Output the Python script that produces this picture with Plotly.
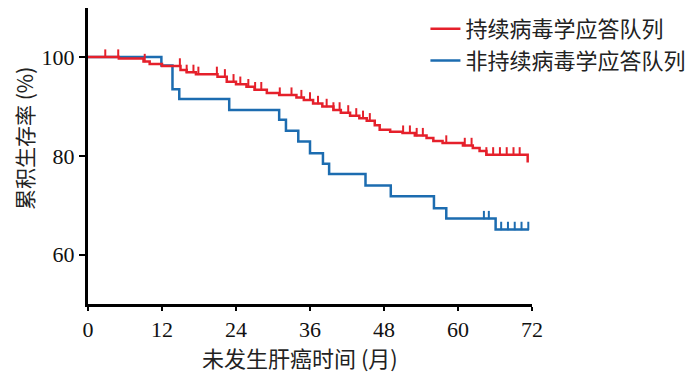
import plotly.graph_objects as go

# Sustained virological response cohort (red)
svr_times = [0, 5, 9, 10, 12, 15, 16, 17.5, 21, 22.5, 24, 25.7, 27, 29, 31, 33.8, 35, 36.5, 38, 39.8,
             41, 42.5, 44, 45.2, 46.5, 47.3, 49, 51, 53, 54.9, 56, 57.5, 60.8, 62.4, 63.5, 64.6, 71.3, 71.5]
svr_surv = [100, 99.7, 99.1, 98.6, 98.2, 97.4, 96.9, 96.5, 96.0, 95.0, 94.5, 94.0, 93.4, 92.7, 92.3, 91.8,
            91.3, 90.6, 90.0, 89.3, 88.7, 88.1, 87.6, 87.1, 86.2, 85.3, 84.9, 84.6, 84.1, 83.6, 83.0, 82.6,
            82.1, 81.6, 81.0, 80.2, 78.9, 78.9]
svr_censor = [2.8, 4.9, 9.2, 14.9, 16.0, 17.1, 17.9, 20.9, 22.2, 23.6, 24.7, 26.0, 27.1, 28.1, 31.1, 33.0,
              34.6, 36.0, 37.3, 38.7, 39.8, 40.8, 42.2, 43.5, 44.6, 45.7, 51.1, 52.2, 53.3, 54.3, 58.1,
              61.1, 62.2, 64.6, 65.7, 66.8, 67.9, 69.0, 70.0]

# Non-sustained virological response cohort (blue)
nsvr_times = [0, 11.9, 13.7, 14.8, 22.9, 31, 32.1, 34.1, 36, 38.1, 39.1, 45, 49.1, 56.1, 58.1, 66.1, 71.5]
nsvr_surv = [100, 98.3, 93.5, 91.5, 89.3, 87.3, 85.1, 82.9, 80.5, 78.4, 76.3, 74.0, 71.8, 69.4, 67.3, 65.1, 65.1]
nsvr_censor = [64.2, 65.0, 67.0, 68.1, 69.2, 70.3, 71.4]

x_ticks = [0, 12, 24, 36, 48, 60, 72]
y_ticks = [60, 80, 100]

RED = "#e5202b"
BLUE = "#1c6cb0"
SERIF = "Liberation Serif, Times New Roman, serif"
CJK = "Noto Sans CJK SC"


def surv_at(times, surv, t):
    v = surv[0]
    for ti, si in zip(times, surv):
        if ti <= t:
            v = si
    return v


fig = go.Figure()

fig.add_trace(go.Scatter(x=nsvr_times, y=nsvr_surv, mode="lines", line=dict(color=BLUE, width=2.5, shape="hv"),
                         name="非持续病毒学应答队列", legendrank=2, legendgroup="b"))
fig.add_trace(go.Scatter(x=nsvr_censor, y=[surv_at(nsvr_times, nsvr_surv, t) + 0.7 for t in nsvr_censor],
                         mode="markers", marker=dict(symbol="line-ns", size=6, line=dict(color=BLUE, width=2)),
                         showlegend=False, legendgroup="b"))
fig.add_trace(go.Scatter(x=svr_times, y=svr_surv, mode="lines", line=dict(color=RED, width=2.5, shape="hv"),
                         name="持续病毒学应答队列", legendrank=1, legendgroup="r"))
fig.add_trace(go.Scatter(x=svr_censor, y=[surv_at(svr_times, svr_surv, t) + 0.7 for t in svr_censor],
                         mode="markers", marker=dict(symbol="line-ns", size=6, line=dict(color=RED, width=2)),
                         showlegend=False, legendgroup="r"))

PH = 296.0  # plot height in px

fig.update_layout(
    width=692, height=367,
    margin=dict(l=80, r=168, t=0, b=71, autoexpand=False),
    paper_bgcolor="white", plot_bgcolor="white",
    showlegend=True,
    legend=dict(x=0.76, y=1.0, xanchor="left", yanchor="top", bgcolor="rgba(0,0,0,0)",
                font=dict(family=CJK, size=22, color="#222"),
                tracegroupgap=0, itemwidth=30),
    xaxis=dict(range=[0, 72], tickvals=x_ticks, ticktext=[str(v) for v in x_ticks],
               showgrid=False, zeroline=False, showline=True, linecolor="black", linewidth=3,
               ticks="outside", ticklen=4, tickwidth=2, tickcolor="black",
               tickfont=dict(family=SERIF, size=22, color="#111")),
    yaxis=dict(range=[50, 109.93], tickvals=y_ticks, ticktext=[str(v) for v in y_ticks],
               showgrid=False, zeroline=False, showline=True, linecolor="black", linewidth=3,
               ticks="outside", ticklen=6, tickwidth=2, tickcolor="black",
               tickfont=dict(family=SERIF, size=22, color="#111")),
    annotations=[
        dict(text="未发生肝癌时间 (月)", xref="paper", yref="paper", x=(292 - 80) / 444, y=-(349 - 296) / PH,
             showarrow=False, xanchor="center", yanchor="middle",
             font=dict(family=CJK, size=22, color="#222")),
        dict(text="累积生存率 (%)", xref="paper", yref="paper", x=(16 - 80) / 444, y=(296 - 131) / PH,
             showarrow=False, xanchor="center", yanchor="middle", textangle=-90,
             font=dict(family=CJK, size=21, color="#222")),
    ],
)

fig.write_html("out.html")
